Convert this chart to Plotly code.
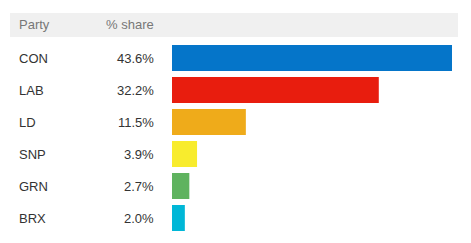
import plotly.graph_objects as go

parties = ["CON", "LAB", "LD", "SNP", "GRN", "BRX"]
shares = [43.6, 32.2, 11.5, 3.9, 2.7, 2.0]
colors = ["#0575C9", "#E81D0E", "#EFAB1A", "#F8EC2D", "#5FB35F", "#00B7D7"]
headers = ["Party", "% share"]

W, H = 471, 243

def px(x):
    return x / W

def py(y):
    return (H - y) / H

fig = go.Figure()
fig.add_trace(go.Bar(
    x=shares, y=parties, orientation="h",
    marker=dict(color=colors, line=dict(width=0)),
    hoverinfo="skip",
))

annotations = []
font_row = dict(family="Liberation Sans, Arial, sans-serif", size=13, color="#333333")
font_head = dict(family="Liberation Sans, Arial, sans-serif", size=13, color="#777777")
for p, s in zip(parties, shares):
    annotations.append(dict(x=px(17), y=p, xref="paper", yref="y", text=p,
                            showarrow=False, xanchor="left", yanchor="middle", font=font_row))
    annotations.append(dict(x=px(156), y=p, xref="paper", yref="y", text=f"{s:.1f}%",
                            showarrow=False, xanchor="right", yanchor="middle", font=font_row))
annotations.append(dict(x=px(17), y=py(25), xref="paper", yref="paper", text=headers[0],
                        showarrow=False, xanchor="left", yanchor="middle", font=font_head))
annotations.append(dict(x=px(156), y=py(25), xref="paper", yref="paper", text=headers[1],
                        showarrow=False, xanchor="right", yanchor="middle", font=font_head))

fig.update_layout(
    width=W, height=H,
    margin=dict(l=0, r=0, t=0, b=0),
    paper_bgcolor="white", plot_bgcolor="white",
    showlegend=False,
    bargap=6/32,
    xaxis=dict(domain=[px(172), px(452)], range=[0, 43.6], visible=False, fixedrange=True),
    yaxis=dict(domain=[py(234), py(42)], categoryorder="array", categoryarray=parties,
               range=[5.5, -0.5], visible=False, fixedrange=True),
    shapes=[dict(type="rect", xref="paper", yref="paper", x0=px(10), x1=px(458),
                 y0=py(37), y1=py(13), fillcolor="#F0F0F0", line=dict(width=0), layer="below")],
    annotations=annotations,
)

fig.write_html("out.html", config={"displayModeBar": False})
